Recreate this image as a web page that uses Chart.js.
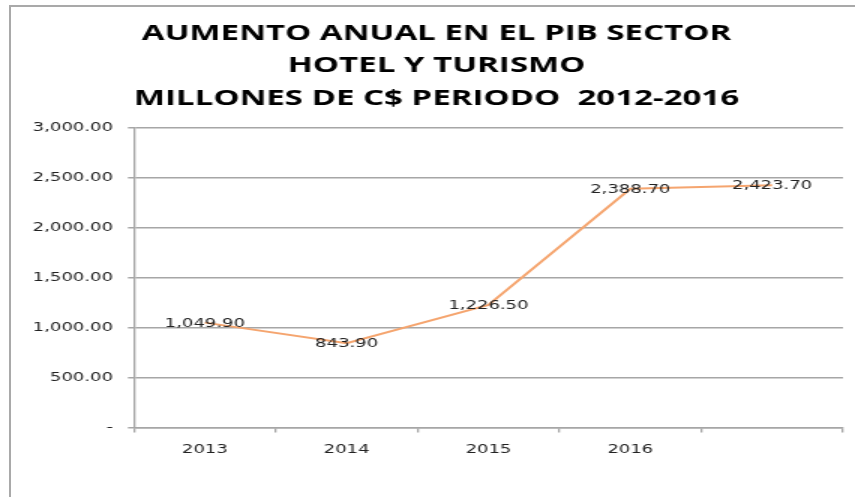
<!DOCTYPE html>
<html>
<head>
<meta charset="utf-8">
<script src="https://cdn.jsdelivr.net/npm/chart.js@4.4.0/dist/chart.umd.min.js"></script>
<style>
  html, body { margin: 0; padding: 0; background: #fff; overflow: hidden; }
  #frame {
    position: absolute; left: 9px; top: 5px; width: 900px; height: 600px;
    border-left: 2px solid #a9a9a9; border-top: 2px solid #a9a9a9;
  }
  /* la imagen original esta estirada a lo ancho */
  #wrap {
    position: absolute; left: 0; top: 0; width: 570px; height: 497px;
    transform: scaleX(1.5); transform-origin: 0 0;
  }
</style>
</head>
<body>
<div id="frame"></div>
<div id="wrap"><canvas id="pib-chart" width="570" height="497"></canvas></div>
<script>
// Datos: aumento anual PIB sector hotel y turismo (millones de C$)
const categories = ['2013', '2014', '2015', '2016', ''];
const pibValues = [1049.90, 843.90, 1226.50, 2388.70, 2423.70];
const yTickValues = [0, 500, 1000, 1500, 2000, 2500, 3000];
const titleLines = [
    'AUMENTO ANUAL EN EL PIB SECTOR',
    'HOTEL Y TURISMO',
    'MILLONES DE C$ PERIODO  2012-2016'
];

const fmt = v => v === 0 ? '-' : v.toLocaleString('en-US', { minimumFractionDigits: 2, maximumFractionDigits: 2 });

// etiquetas de datos centradas sobre cada punto
const dataLabels = {
    id: 'dataLabels',
    afterDatasetsDraw(chart) {
        const ctx = chart.ctx;
        const meta = chart.getDatasetMeta(0);
        ctx.save();
        ctx.font = '12px "DejaVu Sans"';
        ctx.fillStyle = '#222';
        ctx.textAlign = 'center';
        ctx.textBaseline = 'middle';
        meta.data.forEach((pt, i) => {
            ctx.fillText(fmt(pibValues[i]), pt.x, pt.y + 1);
        });
        ctx.restore();
    }
};

const ctx1 = document.getElementById('pib-chart').getContext('2d');
new Chart(ctx1, {
    type: 'line',
    data: {
        labels: categories,
        datasets: [{
            label: 'PIB',
            data: pibValues,
            borderColor: '#f5a56f',
            borderWidth: 2,
            pointRadius: 0,
            tension: 0
        }]
    },
    options: {
        responsive: false,
        animation: false,
        devicePixelRatio: 1,
        layout: { padding: { left: 20, right: 8, top: 0, bottom: 30 } },
        plugins: {
            legend: { display: false },
            tooltip: { enabled: false },
            title: {
                display: true,
                text: titleLines,
                color: '#000',
                font: { family: '"Open Sans"', size: 22, weight: 'bold', lineHeight: 1.48 },
                padding: { top: 17, bottom: 13 }
            }
        },
        scales: {
            x: {
                offset: true,
                grid: {
                    offset: true,
                    drawOnChartArea: false,
                    color: '#a6a6a6',
                    lineWidth: 1.3,
                    tickLength: 5
                },
                border: { color: '#a6a6a6', width: 1.5 },
                ticks: {
                    color: '#222',
                    padding: 10,
                    font: { family: '"DejaVu Sans"', size: 12 },
                    maxRotation: 0
                }
            },
            y: {
                min: 0,
                max: 3000,
                afterBuildTicks(scale) {
                    scale.ticks = yTickValues.map(v => ({ value: v }));
                },
                afterFit(scale) { scale.width = 69.3; },
                grid: { color: '#a6a6a6', lineWidth: 1.5, tickLength: 4 },
                border: { color: '#a6a6a6', width: 1.3 },
                ticks: {
                    color: '#222',
                    padding: 10,
                    font: { family: '"DejaVu Sans"', size: 12 },
                    callback: v => fmt(v)
                }
            }
        }
    },
    plugins: [dataLabels]
});
</script>
</body>
</html>
